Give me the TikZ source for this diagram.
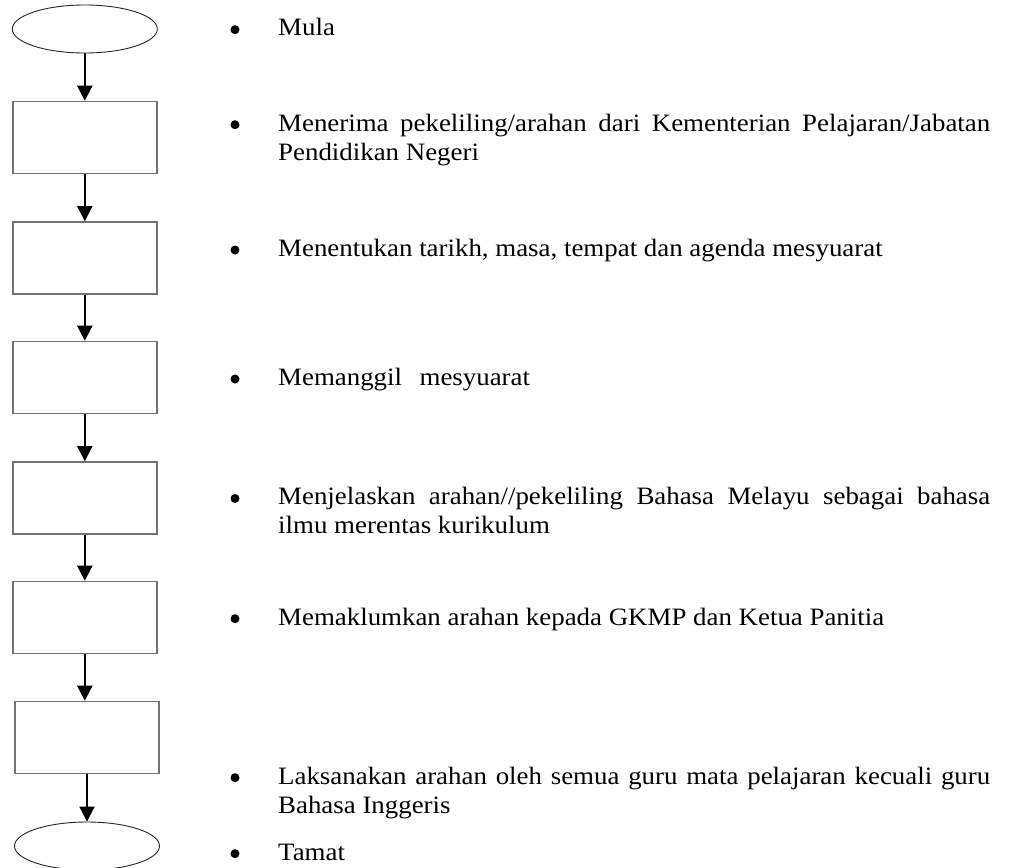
\documentclass[tikz,border=0pt]{standalone}
\usepackage{fontspec}
\setmainfont{Liberation Serif}[FakeStretch=1.075]
\usetikzlibrary{shapes.geometric,arrows.meta}
\begin{document}
\begin{tikzpicture}[x=1pt,y=-1pt,
  terminal/.style={draw=black!85, line width=0.9pt, ellipse, minimum width=145pt, minimum height=48pt, inner sep=0pt},
  stepbox/.style={draw=black!55, line width=1.6pt, rectangle, minimum width=144pt, minimum height=72pt, inner sep=0pt},
  flow/.style={line width=2pt, -{Triangle[width=15pt,length=15pt]}},
  dot/.style={circle, fill=black, inner sep=0pt, minimum size=9pt},
  item/.style={anchor=base west, inner sep=0pt, font=\fontsize{25}{29}\selectfont}]
\useasboundingbox (0,0) rectangle (1011,867);

% flowchart column
\node[terminal] (start) at (84.8,29) {};
\node[stepbox] (s1) at (84.8,137.5) {};
\node[stepbox] (s2) at (84.8,258) {};
\node[stepbox] (s3) at (84.8,377.5) {};
\node[stepbox] (s4) at (84.8,498) {};
\node[stepbox] (s5) at (84.8,617.5) {};
\node[stepbox] (s6) at (87,737.5) {};
\node[terminal] (stop) at (87,846) {};

\draw[flow] (start) -- (s1);
\draw[flow] (s1) -- (s2);
\draw[flow] (s2) -- (s3);
\draw[flow] (s3) -- (s4);
\draw[flow] (s4) -- (s5);
\draw[flow] (s5.south) -- (s5.south |- s6.north);
\draw[flow] (s6) -- (stop);

% bulleted descriptions
\node[dot] (d1) at (235,29.7) {};
\node[item] (t1) at (278,36) {Mula};

\node[dot] (d2) at (235,124.7) {};
\node[item] (t2) at (278,131) {\parbox[t]{712pt}{Menerima pekeliling/arahan dari Kementerian Pelajaran/Jabatan\linebreak Pendidikan Negeri}};

\node[dot] (d3) at (235,250) {};
\node[item] (t3) at (278,256.3) {Menentukan tarikh, masa, tempat dan agenda mesyuarat};

\node[dot] (d4) at (235,379) {};
\node[item] (t4) at (278,385.3) {Memanggil\hspace{0.7em}mesyuarat};

\node[dot] (d5) at (235,498.5) {};
\node[item] (t5) at (278,504.8) {\parbox[t]{712pt}{Menjelaskan arahan//pekeliling Bahasa Melayu sebagai bahasa\linebreak ilmu merentas kurikulum}};

\node[dot] (d6) at (235,618.7) {};
\node[item] (t6) at (278,625) {Memaklumkan arahan kepada GKMP dan Ketua Panitia};

\node[dot] (d7) at (235,777.7) {};
\node[item] (t7) at (278,784) {\parbox[t]{712pt}{Laksanakan arahan oleh semua guru mata pelajaran kecuali guru\linebreak Bahasa Inggeris}};

\node[dot] (d8) at (235,853.7) {};
\node[item] (t8) at (278,860) {Tamat};
\end{tikzpicture}
\end{document}
